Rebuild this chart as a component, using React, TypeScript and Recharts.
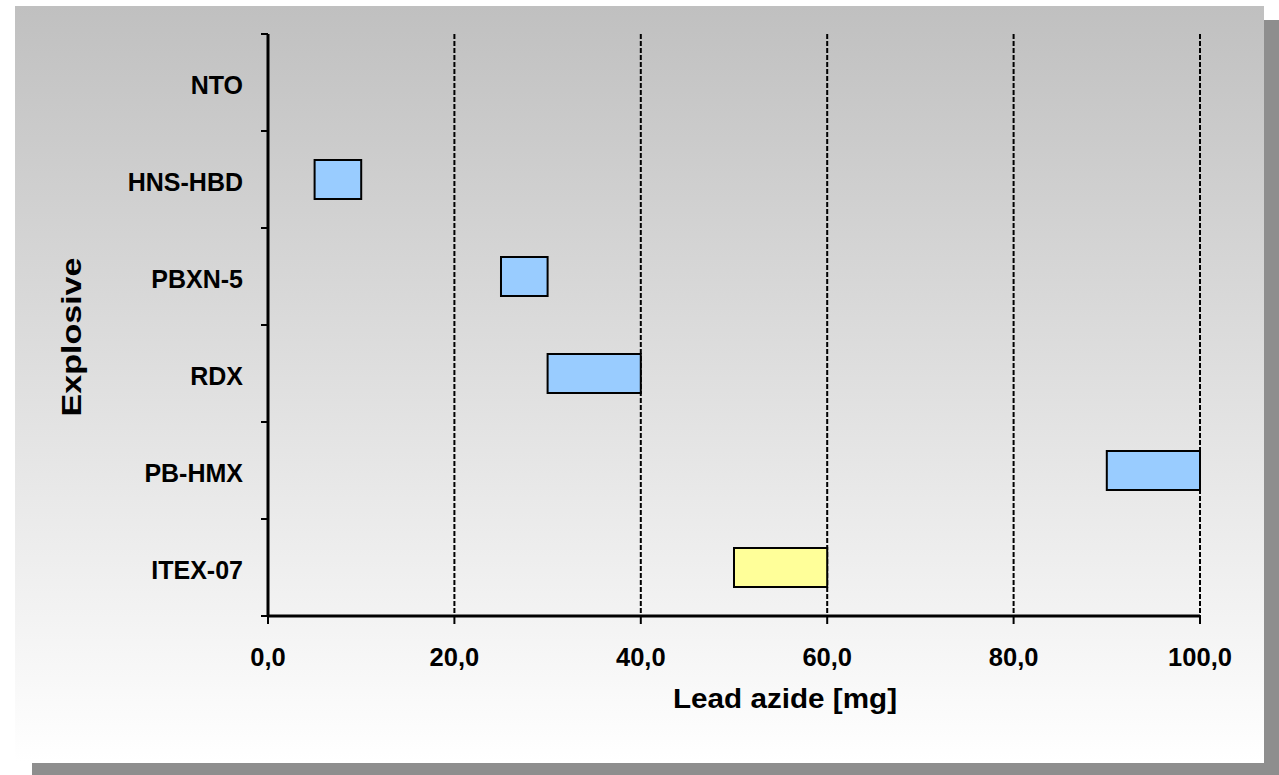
import React from 'react';
import { BarChart, Bar, XAxis, YAxis, CartesianGrid, Cell } from 'recharts';

const categories = ['NTO', 'HNS-HBD', 'PBXN-5', 'RDX', 'PB-HMX', 'ITEX-07'];
const rangeStart: (number | null)[] = [null, 5, 25, 30, 90, 50];
const rangeEnd: (number | null)[] = [null, 10, 30, 40, 100, 60];
const barColors = ['#99ccff', '#99ccff', '#99ccff', '#99ccff', '#99ccff', '#ffff99'];
const xTicks = [0, 20, 40, 60, 80, 100];

const data = categories.map((name, i) => ({
  name,
  range: rangeStart[i] == null ? null : [rangeStart[i], rangeEnd[i]],
}));

const FONT = "'Liberation Sans', Arial, Helvetica, sans-serif";

// category labels plus the small tick marks that sit between the bands
const CategoryTick = (props: any) => {
  const { x, y, payload, index, visibleTicksCount } = props;
  const half = payload.offset ?? 48.5;
  const axisX = x + 18 + 7;
  const isLast = index === (visibleTicksCount ?? categories.length) - 1;
  return (
    <g>
      <line x1={axisX - 7} x2={axisX} y1={y - half} y2={y - half} stroke="#000" strokeWidth={2} />
      {isLast && (
        <line x1={axisX - 7} x2={axisX} y1={y + half} y2={y + half} stroke="#000" strokeWidth={2} />
      )}
      <text x={x} y={y} dy={11} textAnchor="end" fontSize={25} fontWeight="bold" fill="#000" fontFamily={FONT}>
        {payload.value}
      </text>
    </g>
  );
};

const XTitle = (props: any) => {
  const { viewBox } = props;
  const cx = viewBox.x + viewBox.width / 2 + 51;
  return (
    <text x={cx} y={viewBox.y + 92} textAnchor="middle" fontSize={27} fontWeight="bold" fill="#000"
      fontFamily={FONT} textLength={224} lengthAdjust="spacingAndGlyphs">
      Lead azide [mg]
    </text>
  );
};

const YTitle = (props: any) => {
  const { viewBox } = props;
  const tx = 81;
  const ty = viewBox.y + viewBox.height / 2 + 12;
  return (
    <text x={tx} y={ty} transform={`rotate(-90 ${tx} ${ty})`} textAnchor="middle" fontSize={28}
      fontWeight="bold" fill="#000" fontFamily={FONT} textLength={159} lengthAdjust="spacingAndGlyphs">
      Explosive
    </text>
  );
};

export default function App() {
  return (
    <div style={{ position: 'absolute', left: 0, top: 0, width: 1279, height: 775, overflow: 'hidden' }}>
      {/* drop shadow */}
      <div style={{ position: 'absolute', left: 32, top: 20, width: 1247, height: 755, background: '#8e8e8e' }} />
      {/* panel */}
      <div
        style={{
          position: 'absolute', left: 15, top: 6, width: 1249, height: 757,
          background: 'linear-gradient(to bottom, #c0c0c0 0%, #ffffff 100%)',
        }}
      />
      <div style={{ position: 'absolute', left: 0, top: 0 }}>
        <BarChart
          width={1279}
          height={775}
          data={data}
          layout="vertical"
          margin={{ top: 34, right: 79, bottom: 49, left: 0 }}
          barCategoryGap={0}
        >
          <CartesianGrid horizontal={false} stroke="#000" strokeDasharray="5 2" strokeWidth={2} />
          <XAxis
            type="number"
            domain={[0, 100]}
            ticks={xTicks}
            interval={0}
            height={110}
            tickSize={8}
            tickMargin={24}
            axisLine={{ stroke: '#000', strokeWidth: 3 }}
            tickLine={{ stroke: '#000', strokeWidth: 2 }}
            tick={{ fill: '#000', fontSize: 25.5, fontWeight: 'bold', fontFamily: FONT }}
            tickFormatter={(v: number) => v.toFixed(1).replace('.', ',')}
            label={<XTitle />}
          />
          <YAxis
            type="category"
            dataKey="name"
            width={268}
            tickSize={7}
            tickMargin={18}
            interval={0}
            axisLine={{ stroke: '#000', strokeWidth: 3 }}
            tickLine={false}
            tick={<CategoryTick />}
            label={<YTitle />}
          />
          <Bar dataKey="range" barSize={39} stroke="#000" strokeWidth={2} isAnimationActive={false}>
            {data.map((d, i) => (
              <Cell key={d.name} fill={barColors[i]} />
            ))}
          </Bar>
        </BarChart>
      </div>
    </div>
  );
}
